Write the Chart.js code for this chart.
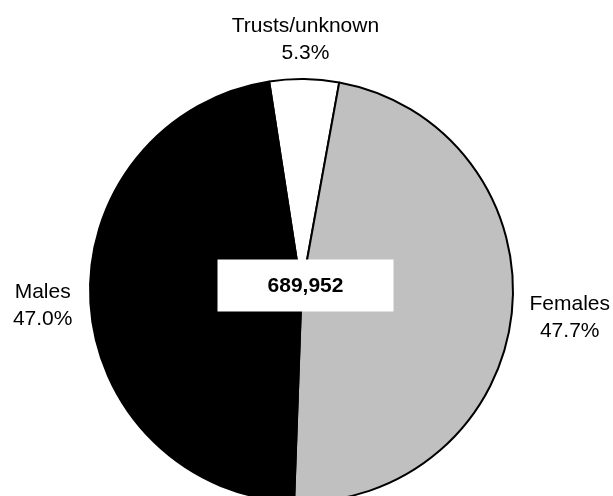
<!DOCTYPE html>
<html>
<head>
<meta charset="utf-8">
<script src="https://cdn.jsdelivr.net/npm/chart.js@4.4.1/dist/chart.umd.min.js"></script>
<style>
    html, body { margin: 0; padding: 0; background: #ffffff; overflow: hidden; }
    #wrap { width: 613px; height: 520px; }
</style>
</head>
<body>
<div id="wrap"><canvas id="chart" width="613" height="520"></canvas></div>
<script>
// 데이터
const categories = ['Trusts/unknown', 'Females', 'Males'];
const shares = [5.3, 47.7, 47.0];
const sliceColors = ['#ffffff', '#c0c0c0', '#000000'];
const totalCount = '689,952';

const FONT = '"Liberation Sans", Arial, Helvetica, sans-serif';

// 바깥 라벨 + 가운데 합계 박스
const labelPlugin = {
    id: 'pieLabels',
    afterDatasetsDraw(chart) {
        const ctx = chart.ctx;
        const meta = chart.getDatasetMeta(0);
        const gap = 18;
        const lineH = 27;
        ctx.save();
        ctx.fillStyle = '#000000';
        ctx.textAlign = 'center';
        ctx.textBaseline = 'middle';
        ctx.font = '21px ' + FONT;

        meta.data.forEach((arc, i) => {
            const p = arc.getProps(['x', 'y', 'startAngle', 'endAngle', 'outerRadius'], true);
            const mid = (p.startAngle + p.endAngle) / 2;
            const lines = [categories[i], shares[i].toFixed(1) + '%'];
            const halfW = Math.max(...lines.map(l => ctx.measureText(l).width)) / 2;
            const halfH = 21;
            const cos = Math.cos(mid), sin = Math.sin(mid);
            const cx = p.x + cos * (p.outerRadius + gap) + cos * halfW;
            const cy = p.y + sin * (p.outerRadius + gap) + sin * halfH;
            ctx.fillText(lines[0], cx, cy - lineH / 2);
            ctx.fillText(lines[1], cx, cy + lineH / 2);
        });

        // 가운데 박스
        const a = meta.data[0];
        const bx = a.x + 4, by = a.y - 5;
        ctx.fillStyle = '#ffffff';
        ctx.fillRect(bx - 88, by - 26, 176, 52);
        ctx.fillStyle = '#000000';
        ctx.font = 'bold 21px ' + FONT;
        ctx.fillText(totalCount, bx, by + 1);
        ctx.restore();
    }
};

new Chart(document.getElementById('chart'), {
    type: 'pie',
    data: {
        labels: categories,
        datasets: [{
            data: shares,
            backgroundColor: sliceColors,
            borderColor: '#000000',
            borderWidth: 2,
            hoverOffset: 0
        }]
    },
    options: {
        responsive: false,
        animation: false,
        events: [],
        rotation: -8.8,
        radius: 211.5,
        layout: {
            padding: { left: 80, right: 90, top: 70, bottom: 9 }
        },
        plugins: {
            legend: { display: false },
            tooltip: { enabled: false }
        }
    },
    plugins: [labelPlugin]
});
</script>
</body>
</html>
